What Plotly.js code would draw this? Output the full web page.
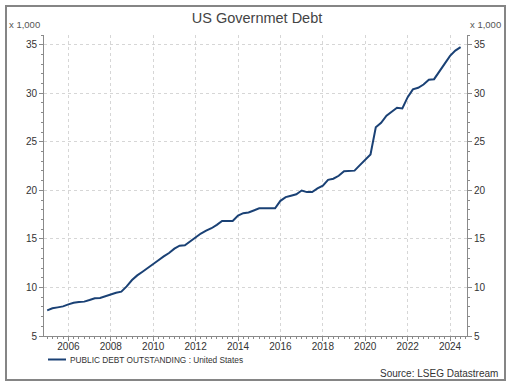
<!DOCTYPE html>
<html>
<head>
<meta charset="utf-8">
<script src="https://cdn.plot.ly/plotly-3.0.1.min.js"></script>
<style>
  html, body { margin: 0; padding: 0; background: #fff; }
  #chart { width: 514px; height: 388px; }
</style>
</head>
<body>
<div id="chart"></div>
<script>
// ---- Data, trillions USD shown as "x 1,000" billions ----
const chartTitle = "US Governmet Debt";
const seriesName = "PUBLIC DEBT OUTSTANDING : United States";
const sourceText = "Source: LSEG Datastream";
const unitLabel = "x 1,000";
const firstYear = 2005;           // first quarter of the series: Q1 2005
const debtValues = [
  7.64, 7.85, 7.95, 8.05,
  8.26, 8.43, 8.50, 8.54,
  8.70, 8.88, 8.91, 9.08,
  9.32, 9.46, 9.57, 10.11,
  10.76, 11.24, 11.62, 12.00,
  12.35, 12.80, 13.20, 13.55,
  14.00, 14.30, 14.35, 14.75,
  15.20, 15.55, 15.85, 16.10,
  16.45, 16.85, 16.85, 16.85,
  17.40, 17.65, 17.72, 17.95,
  18.15, 18.15, 18.15, 18.15,
  18.92, 19.30, 19.45, 19.60,
  19.98, 19.82, 19.82, 20.20,
  20.48, 21.08, 21.20, 21.50,
  21.97, 22.02, 22.03, 22.60,
  23.15, 23.70, 26.50, 26.95,
  27.70, 28.10, 28.50, 28.43,
  29.60, 30.40, 30.56, 30.90,
  31.40, 31.45, 32.25, 32.95,
  33.85, 34.40, 34.75
];
// quarterly dates for each value
const quarterDates = debtValues.map((_, i) => {
  const y = firstYear + Math.floor(i / 4);
  const m = (i % 4) * 3 + 1;
  return y + "-" + String(m).padStart(2, "0") + "-01";
});

// ---- Styling ----
const lineColor = "#1a4175";
const axisColor = "#8a8a8a";
const gridColor = "#d6d6d6";
const textColor = "#333333";
const fontFamily = "Liberation Sans, Arial, sans-serif";

// plot area in pixels
const W = 514, H = 388;
const L = 44, R = 467, T = 35, B = 336;
const pw = R - L, ph = B - T;
const px = x => (x - L) / pw;
const py = y => (B - y) / ph;

const traces = [
  {
    x: quarterDates, y: debtValues, type: "scatter", mode: "lines",
    name: seriesName, line: { color: lineColor, width: 2 },
    xaxis: "x", yaxis: "y", showlegend: false
  },
  {
    x: quarterDates, y: debtValues, type: "scatter", mode: "lines",
    name: seriesName, line: { color: lineColor, width: 2 }, opacity: 0,
    xaxis: "x", yaxis: "y2", showlegend: false, hoverinfo: "skip"
  }
];

const yCommon = {
  range: [5, 36], tick0: 5, dtick: 5, tickmode: "linear",
  ticks: "outside", ticklen: 4, tickwidth: 1, tickcolor: axisColor,
  showline: true, linecolor: axisColor, linewidth: 1,
  zeroline: false, fixedrange: true,
  tickfont: { family: fontFamily, size: 10, color: textColor },
  minor: { ticks: "outside", ticklen: 2, tickcolor: axisColor, dtick: 1, tick0: 5, showgrid: false }
};

const layout = {
  width: W, height: H,
  margin: { l: L, r: W - R, t: T, b: H - B, pad: 0 },
  paper_bgcolor: "#ffffff", plot_bgcolor: "#ffffff",
  showlegend: false,
  font: { family: fontFamily, color: textColor },
  title: {
    text: chartTitle, x: 0.5, xref: "container", xanchor: "center",
    y: 1 - 17.5 / H, yref: "container", yanchor: "middle",
    font: { family: fontFamily, size: 14.5, color: "#444444" }
  },
  xaxis: {
    type: "date",
    range: ["2004-11-07", "2024-10-19"],
    tick0: "2006-01-01", dtick: "M24", tickformat: "%Y",
    ticks: "outside", ticklen: 4, tickwidth: 1, tickcolor: axisColor,
    ticklabelstandoff: -3,
    showline: true, linecolor: axisColor, linewidth: 1,
    showgrid: true, gridcolor: gridColor, griddash: "dot", gridwidth: 1,
    zeroline: false, fixedrange: true,
    tickfont: { family: fontFamily, size: 10, color: textColor },
    minor: { ticks: "outside", ticklen: 2, tickcolor: axisColor, dtick: "M3", tick0: "2005-01-01", showgrid: false }
  },
  yaxis: Object.assign({}, yCommon, {
    side: "left", showgrid: true, gridcolor: gridColor, griddash: "dot", gridwidth: 1
  }),
  yaxis2: Object.assign({}, yCommon, {
    side: "right", overlaying: "y", showgrid: false
  }),
  shapes: [
    { type: "rect", xref: "paper", yref: "paper",
      x0: px(6), x1: px(505), y0: py(380), y1: py(6),
      line: { color: "#858585", width: 2 }, fillcolor: "rgba(0,0,0,0)", layer: "below" },
    { type: "line", xref: "paper", yref: "paper",
      x0: px(48), x1: px(66), y0: py(359.5), y1: py(359.5),
      line: { color: lineColor, width: 2 } }
  ],
  annotations: [
    { text: unitLabel, xref: "paper", yref: "paper", x: px(7), y: py(24),
      xanchor: "left", yanchor: "middle", showarrow: false,
      font: { family: fontFamily, size: 9.5, color: "#555" } },
    { text: unitLabel, xref: "paper", yref: "paper", x: px(503), y: py(24),
      xanchor: "right", yanchor: "middle", showarrow: false,
      font: { family: fontFamily, size: 9.5, color: "#555" } },
    { text: seriesName, xref: "paper", yref: "paper", x: px(67.5), y: py(360),
      xanchor: "left", yanchor: "middle", showarrow: false,
      font: { family: fontFamily, size: 8.3, color: textColor } },
    { text: sourceText, xref: "paper", yref: "paper", x: px(500), y: py(373),
      xanchor: "right", yanchor: "middle", showarrow: false,
      font: { family: fontFamily, size: 10, color: textColor } }
  ]
};

Plotly.newPlot("chart", traces, layout, { staticPlot: true, displayModeBar: false });
</script>
</body>
</html>
